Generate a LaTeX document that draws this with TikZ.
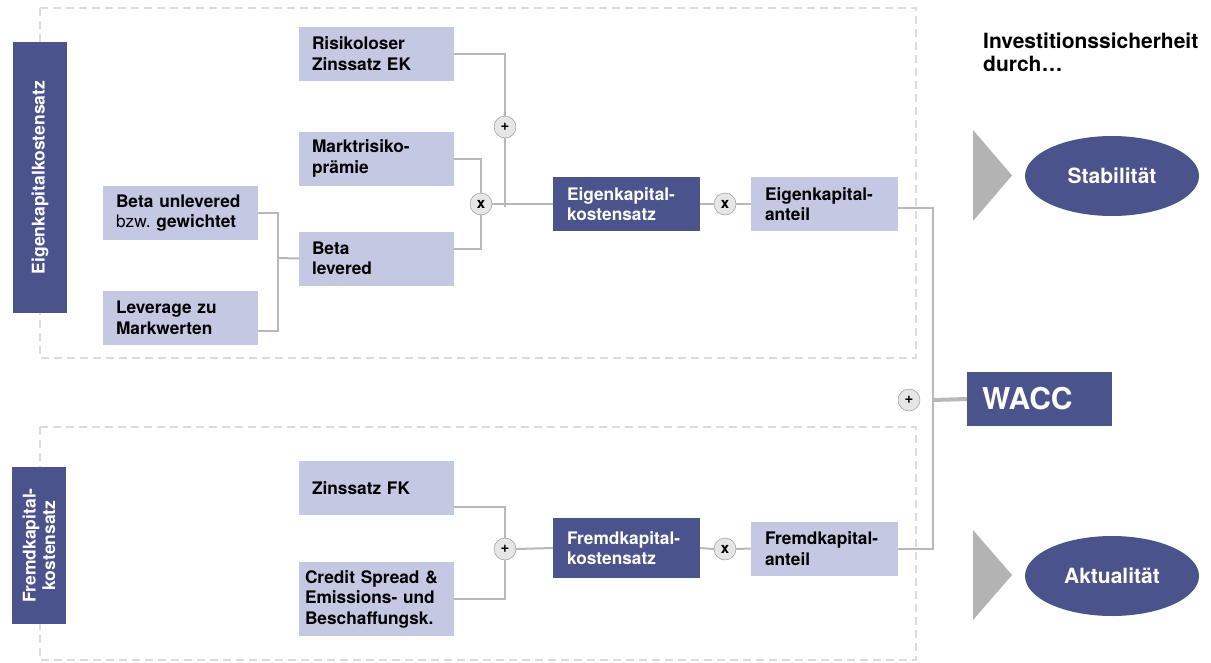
\documentclass[tikz,border=0pt]{standalone}
\usepackage{fontspec}
\setmainfont{TeX Gyre Heros}
\usetikzlibrary{shapes.geometric}
\definecolor{darkbox}{HTML}{4B538C}
\definecolor{lightbox}{HTML}{C5C8E2}
\definecolor{linegray}{HTML}{B8B8B8}
\definecolor{dashgray}{HTML}{DCDCDC}
\definecolor{trigray}{HTML}{B3B3B3}
\definecolor{opfill}{HTML}{E6E6E6}
\definecolor{opdraw}{HTML}{8C8C8C}
\tikzset{
	lbox/.style={fill=lightbox, text width=129pt, inner xsep=13pt, minimum height=54pt,
			align=left, font=\fontsize{17.3}{20.5}\selectfont\bfseries},
	dbox/.style={lbox, fill=darkbox, text=white, text width=119pt, inner xsep=14pt},
	op/.style={circle, draw=opdraw, fill=opfill, minimum size=22pt, inner sep=0pt,
			font=\fontsize{15}{15}\selectfont\bfseries},
	conn/.style={draw=linegray, line width=2pt},
	sidelab/.style={fill=darkbox, text=white, rotate=90, minimum height=54pt, align=center,
			font=\fontsize{17.5}{19.5}\selectfont\bfseries},
	frame/.style={draw=dashgray, line width=1.2pt, dash pattern=on 8pt off 5pt},
	goal/.style={ellipse, fill=darkbox, text=white, minimum width=174pt, minimum height=80pt,
			font=\fontsize{21}{24}\selectfont\bfseries}
}
\begin{document}
\begin{tikzpicture}[x=1pt,y=-1pt]
	\useasboundingbox (0,0) rectangle (1211,662);
	% gestrichelte Rahmen
	\draw[frame] (40,8) rectangle (916,358);
	\draw[frame] (40,427) rectangle (916,660);
	% Seitenbeschriftung
	\node[sidelab, minimum width=271pt] (ekside) at (40,177.5) {Eigenkapitalkostensatz};
	\node[sidelab, minimum width=157pt] (fkside) at (39,545.5) {Fremdkapital-\\kostensatz};
	% Eigenkapital
	\node[lbox] (rf) at (376.5,53.5) {Risikoloser\\Zinssatz EK};
	\node[lbox] (mrp) at (376.5,158.5) {Marktrisiko-\\prämie};
	\node[lbox] (bl) at (376.5,258.5) {Beta\\levered};
	\node[lbox] (bu) at (180.5,213) {Beta unlevered\\{\mdseries bzw.}\ gewichtet};
	\node[lbox] (lev) at (180.5,318) {Leverage zu\\Markwerten};
	\node[dbox] (ekk) at (626.5,204) {Eigenkapital-\\kostensatz};
	\node[lbox, text width=119pt, inner xsep=14pt] (eka) at (824.5,204) {Eigenkapital-\\anteil};
	\node[op] (plus1) at (505,127) {+};
	\node[op] (mult1) at (481,204) {x};
	\node[op] (mult2) at (725,204) {x};
	% Fremdkapital
	\node[lbox] (zfk) at (376.5,488) {Zinssatz FK};
	\node[lbox, minimum height=74pt, text width=143pt, inner xsep=6pt] (cs) at (376.5,599)
		{Credit Spread \&\\Emissions- und\\Beschaffungsk.};
	\node[dbox, minimum height=60pt] (fkk) at (626.5,548) {Fremdkapital-\\kostensatz};
	\node[lbox, text width=119pt, inner xsep=14pt] (fka) at (824.5,548.5) {Fremdkapital-\\anteil};
	\node[op] (plus2) at (505,549) {+};
	\node[op] (mult3) at (725,549) {x};
	% WACC
	\node[dbox, text width=115pt, inner xsep=15pt, font=\fontsize{30}{32}\selectfont\bfseries] (wacc)
		at (1039.5,399) {WACC};
	\node[op] (plus3) at (909,400) {+};
	\coordinate (jb) at (278,258);
	\coordinate (jw) at (933,400);
	% Verbindungen
	\draw[conn] (bu.east) -| (jb) |- ([yshift=-13pt]lev.east);
	\draw[conn] (jb) -- (bl.west);
	\draw[conn] (rf.east) -| (plus1.north);
	\draw[conn] (plus1.south) -- ([yshift=-3pt]plus1.south |- ekk.west);
	\draw[conn] (mrp.east) -| (mult1.north);
	\draw[conn] ([yshift=10pt]bl.east) -| (mult1.south);
	\draw[conn] (mult1.east) -- (ekk.west);
	\draw[conn] (ekk.east) -- (mult2.west);
	\draw[conn] (mult2.east) -- (eka.west);
	\draw[conn] ([yshift=-19pt]zfk.east) -| (plus2.north);
	\draw[conn] (cs.east) -| (plus2.south);
	\draw[conn] (plus2.east) -- (fkk.west);
	\draw[conn] (fkk.east) -- (mult3.west);
	\draw[conn] (mult3.east) -- (fka.west);
	\draw[conn] ([yshift=-4pt]eka.east) -| (jw) |- (fka.east);
	\draw[conn, line width=4pt] (jw) -- (wacc.west);
	% Investitionssicherheit
	\node[anchor=north west, align=left, inner sep=0pt, font=\fontsize{21}{23}\selectfont\bfseries]
		(title) at (983,33) {Investitionssicherheit\\durch\dots};
	\fill[trigray] (973,130) -- (1012,175.5) -- (973,221) -- cycle;
	\fill[trigray] (973,530) -- (1012,575) -- (973,620) -- cycle;
	\node[goal] (stab) at (1112,176) {Stabilität};
	\node[goal] (akt) at (1112,576) {Aktualität};
\end{tikzpicture}
\end{document}
